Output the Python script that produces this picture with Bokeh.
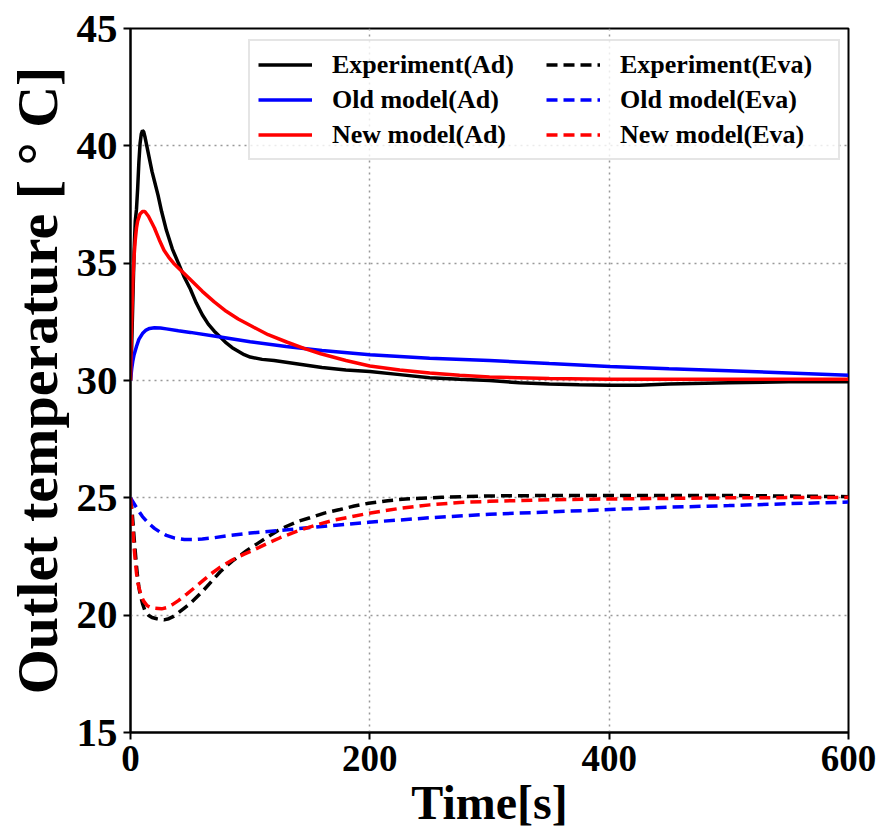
from bokeh.plotting import figure
from bokeh.models import Legend, LegendItem, Range1d, FixedTicker
from bokeh.embed import file_html
from bokeh.resources import INLINE

# ---- data ----
t_exp_ad = [0, 1, 2, 3, 4, 5, 6, 7, 8, 9, 10, 11, 12, 14, 16, 18, 20, 23, 26, 30, 35, 40, 45, 50, 55, 60, 65, 70, 75, 80, 85, 90, 95, 100, 110, 120, 140, 160, 180, 200, 225, 250, 275, 300, 325, 350, 375, 400, 425, 450, 500, 550, 600]
exp_ad = [30.0, 31.5, 33.5, 35.5, 36.8, 37.3, 38.2, 39.3, 40.1, 40.5, 40.65, 40.6, 40.4, 39.9, 39.4, 38.9, 38.5, 37.9, 37.2, 36.4, 35.6, 35.0, 34.4, 33.9, 33.3, 32.8, 32.4, 32.1, 31.85, 31.6, 31.4, 31.25, 31.1, 31.0, 30.9, 30.85, 30.7, 30.55, 30.45, 30.38, 30.25, 30.12, 30.05, 30.0, 29.9, 29.85, 29.82, 29.8, 29.8, 29.85, 29.9, 29.95, 29.95]

t_old_ad = [0, 1, 2, 3, 5, 7, 10, 13, 16, 20, 25, 30, 40, 50, 75, 100, 130, 160, 200, 250, 300, 350, 400, 450, 500, 550, 600]
old_ad = [30.0, 30.5, 30.85, 31.1, 31.45, 31.75, 32.0, 32.15, 32.22, 32.25, 32.24, 32.2, 32.12, 32.05, 31.85, 31.65, 31.45, 31.28, 31.1, 30.95, 30.85, 30.72, 30.6, 30.5, 30.42, 30.32, 30.22]

t_new_ad = [0, 0.5, 1, 2, 3, 4, 5, 6, 8, 10, 12, 15, 18, 20, 24, 28, 32, 36, 42, 50, 60, 70, 80, 90, 103, 115, 131, 145, 159, 180, 200, 225, 250, 275, 300, 350, 400, 500, 600]
new_ad = [30.0, 31.5, 32.5, 34.3, 35.3, 36.0, 36.5, 36.8, 37.1, 37.2, 37.2, 37.0, 36.7, 36.5, 36.0, 35.55, 35.25, 35.0, 34.7, 34.3, 33.8, 33.35, 32.95, 32.62, 32.27, 31.95, 31.63, 31.37, 31.14, 30.85, 30.62, 30.45, 30.32, 30.22, 30.15, 30.08, 30.05, 30.05, 30.05]

t_exp_eva = [0, 1, 2, 3, 4, 5, 6, 7, 8, 10, 12, 15, 18, 22, 28, 32, 36, 40, 45, 50, 55, 60, 67, 75, 85, 97, 106, 115, 123, 131, 140, 150, 162, 175, 187, 199, 215, 230, 260, 300, 350, 400, 500, 600]
exp_eva = [25.0, 24.6, 24.0, 23.3, 22.7, 22.1, 21.6, 21.2, 20.9, 20.5, 20.2, 20.0, 19.9, 19.85, 19.8, 19.85, 19.95, 20.1, 20.3, 20.5, 20.75, 21.0, 21.4, 21.85, 22.3, 22.75, 23.05, 23.35, 23.6, 23.8, 24.0, 24.15, 24.35, 24.5, 24.65, 24.77, 24.88, 24.95, 25.02, 25.08, 25.1, 25.1, 25.1, 25.05]

t_old_eva = [0, 3, 6, 10, 15, 20, 25, 30, 37, 45, 52, 60, 70, 80, 100, 131, 160, 199, 250, 300, 350, 400, 450, 500, 550, 600]
old_eva = [25.0, 24.75, 24.5, 24.2, 23.92, 23.7, 23.53, 23.4, 23.28, 23.22, 23.22, 23.25, 23.3, 23.38, 23.5, 23.64, 23.78, 23.96, 24.15, 24.3, 24.4, 24.5, 24.6, 24.67, 24.75, 24.82]

t_new_eva = [0, 1, 2, 3, 4, 5, 6, 7.5, 9, 11, 14, 17, 20, 26, 30, 35, 40, 47, 53, 60, 67, 75, 85, 95, 103, 114, 125, 135, 145, 157, 170, 185, 199, 225, 250, 275, 300, 350, 400, 500, 600]
new_eva = [25.0, 24.3, 23.6, 22.9, 22.3, 21.8, 21.4, 21.1, 20.8, 20.6, 20.4, 20.33, 20.3, 20.27, 20.32, 20.45, 20.62, 20.9, 21.15, 21.45, 21.75, 22.05, 22.35, 22.6, 22.78, 23.05, 23.3, 23.5, 23.68, 23.87, 24.05, 24.2, 24.34, 24.55, 24.7, 24.8, 24.85, 24.92, 24.95, 25.0, 25.02]

x_ticks = [0, 200, 400, 600]
y_ticks = [15, 20, 25, 30, 35, 40, 45]

labels = ["Experiment(Ad)", "Old model(Ad)", "New model(Ad)",
          "Experiment(Eva)", "Old model(Eva)", "New model(Eva)"]

FONT = "Liberation Serif"

p = figure(width=877, height=834, output_backend="svg", toolbar_location=None,
           x_range=Range1d(0, 600), y_range=Range1d(15, 45),
           min_border_left=130, min_border_right=29, min_border_top=28, min_border_bottom=102)

p.outline_line_color = "black"
p.outline_line_width = 2
p.background_fill_color = "white"
p.border_fill_color = "white"

for ax in (p.xaxis[0], p.yaxis[0]):
    ax.axis_line_width = 2
    ax.axis_line_color = "black"
    ax.major_tick_line_width = 2
    ax.major_tick_out = 7
    ax.major_tick_in = 0
    ax.minor_tick_out = 0
    ax.minor_tick_in = 0
    ax.major_label_text_font = FONT
    ax.major_label_text_font_style = "bold"
    ax.axis_label_text_font = FONT
    ax.axis_label_text_font_style = "bold"
    ax.major_label_text_color = "black"
    ax.axis_label_text_color = "black"

p.xaxis.ticker = FixedTicker(ticks=x_ticks)
p.yaxis.ticker = FixedTicker(ticks=y_ticks)
p.xaxis.major_label_text_font_size = "37px"
p.yaxis.major_label_text_font_size = "41px"
p.xaxis.axis_label = "Time[s]"
p.yaxis.axis_label = "Outlet temperature [ \u00b0 C]"
p.xaxis.axis_label_text_font_size = "48px"
p.yaxis.axis_label_text_font_size = "58px"
p.xaxis.major_label_standoff = 6
p.yaxis.major_label_standoff = 6
p.xaxis.axis_label_standoff = 2
p.yaxis.axis_label_standoff = 4

p.xgrid[0].ticker = FixedTicker(ticks=x_ticks)
p.ygrid[0].ticker = FixedTicker(ticks=y_ticks)
for g in (p.xgrid[0], p.ygrid[0]):
    g.grid_line_color = "#999999"
    g.grid_line_dash = "2 4"
    g.grid_line_width = 1.5

LW = 3.5
DASH = "11 6"
r1 = p.line(t_exp_ad, exp_ad, line_color="black", line_width=LW)
r2 = p.line(t_old_ad, old_ad, line_color="blue", line_width=LW)
r3 = p.line(t_new_ad, new_ad, line_color="red", line_width=LW)
r4 = p.line(t_exp_eva, exp_eva, line_color="black", line_width=LW, line_dash=DASH)
r5 = p.line(t_old_eva, old_eva, line_color="blue", line_width=LW, line_dash=DASH)
r6 = p.line(t_new_eva, new_eva, line_color="red", line_width=LW, line_dash=DASH)

items = [LegendItem(label=lab, renderers=[r]) for lab, r in zip(labels, [r1, r2, r3, r4, r5, r6])]
legend = Legend(items=items, ncols=2, location=(118, 572),
                label_text_font=FONT, label_text_font_style="bold",
                label_text_font_size="26px", label_text_color="black",
                label_standoff=20, label_width=210, glyph_width=54, glyph_height=31,
                spacing=4, padding=8,
                border_line_color="#cccccc", border_line_width=2,
                background_fill_alpha=0.8)
p.add_layout(legend, "center")

open("out.html", "w").write(file_html(p, INLINE))
